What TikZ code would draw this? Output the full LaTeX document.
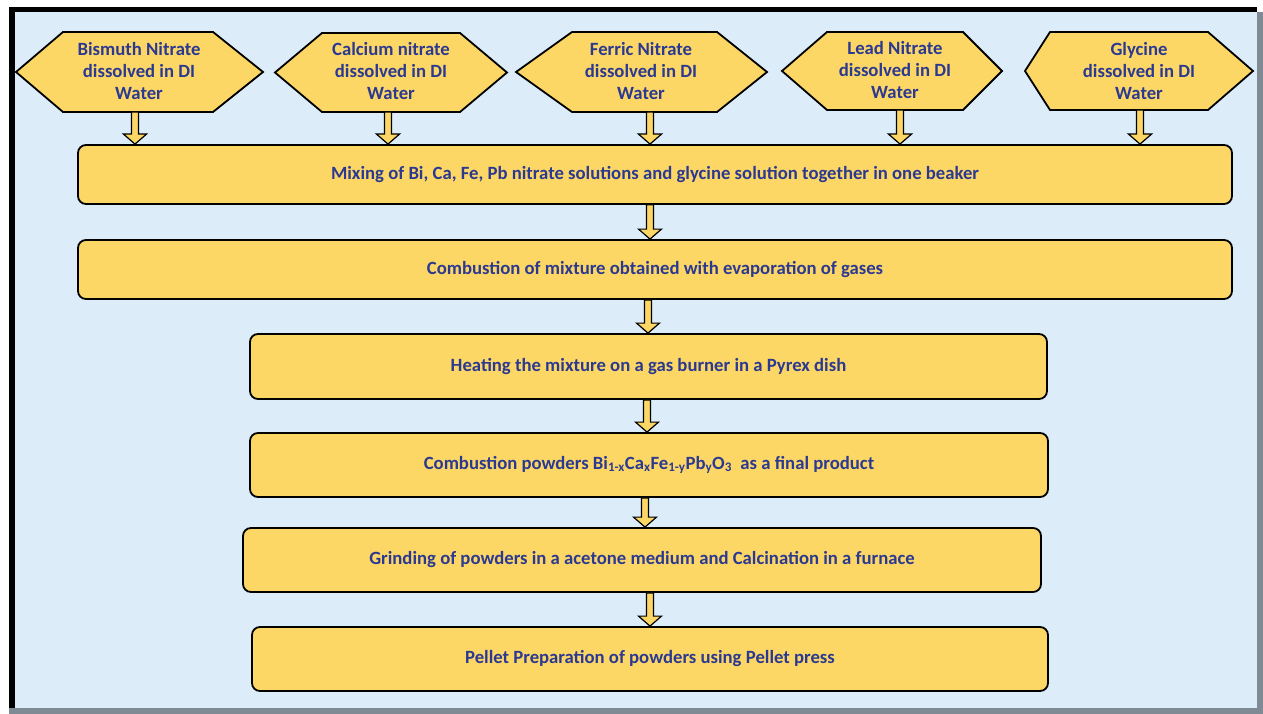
\documentclass[tikz,border=0pt]{standalone}
\usepackage{fontspec}
\setmainfont{Carlito}
\usetikzlibrary{calc}
\definecolor{boxfill}{HTML}{FDD766}
\definecolor{txtblue}{HTML}{2B3990}
\definecolor{bgblue}{HTML}{DCECF8}
\definecolor{framegray}{HTML}{7F8A94}
\tikzset{
  hexbox/.style={draw=black, fill=boxfill, line width=1.8pt, line join=miter},
  hextext/.style={text=txtblue, font=\fontsize{18.7}{22}\selectfont\bfseries, align=center, inner sep=0pt},
  stepbox/.style={draw=black, fill=boxfill, line width=1.8pt, rounded corners=8pt, text=txtblue,
    font=\fontsize{18.7}{22}\selectfont\bfseries, align=center, inner sep=0pt},
  blockarrow/.style={draw=black, fill=boxfill, line width=1.2pt, line join=miter}
}
% block arrow: x taken from source, runs from source down to target
\newcommand\barrow[2]{%
  \path[blockarrow] let \p1=(#1), \p2=(#2) in
    (\x1-3.5pt,\y1) -- (\x1-3.5pt,\y2+10pt) -- (\x1-11.5pt,\y2+10pt) -- (\x1,\y2)
    -- (\x1+11.5pt,\y2+10pt) -- (\x1+3.5pt,\y2+10pt) -- (\x1+3.5pt,\y1) -- cycle;}
\begin{document}
\begin{tikzpicture}[x=1pt,y=-1pt]
\useasboundingbox (0,0) rectangle (1263,714);
% frame
\fill[white] (0,0) rectangle (1263,714);
\fill[bgblue] (15,12) rectangle (1257,708);
\fill[framegray] (1257,12) rectangle (1263,714);
\fill[framegray] (9,708) rectangle (1263,714);
\fill[black] (9,7) rectangle (1257,12);
\fill[black] (9,7) rectangle (15,708);

% hexagons
\draw[hexbox] (16,72) -- (63,32) -- (213,32) -- (263,72) -- (213,112) -- (63,112) -- cycle;
\draw[hexbox] (275,72.5) -- (322,33) -- (460,33) -- (507,72.5) -- (460,112) -- (322,112) -- cycle;
\draw[hexbox] (516,72) -- (572,32) -- (717,32) -- (767,72) -- (717,112) -- (572,112) -- cycle;
\draw[hexbox] (782,71) -- (827,32) -- (963,32) -- (1002,71) -- (963,110) -- (827,110) -- cycle;
\draw[hexbox] (1025,71) -- (1050,32) -- (1208,32) -- (1253,71) -- (1208,110) -- (1050,110) -- cycle;

\node[hextext] (h1) at (139,71) {Bismuth Nitrate\\dissolved in DI\\Water};
\node[hextext] (h2) at (391,71) {Calcium nitrate\\dissolved in DI\\Water};
\node[hextext] (h3) at (641,71) {Ferric Nitrate\\dissolved in DI\\Water};
\node[hextext] (h4) at (895,70) {Lead Nitrate\\dissolved in DI\\Water};
\node[hextext] (h5) at (1139,71) {Glycine\\dissolved in DI\\Water};

\coordinate (h1b) at (135,112);
\coordinate (h2b) at (388,112);
\coordinate (h3b) at (650,112);
\coordinate (h4b) at (900,110);
\coordinate (h5b) at (1140,110);

% process boxes
\node[stepbox, minimum width=1154pt, minimum height=59pt] (m1) at (655,174.5)
  {Mixing of Bi, Ca, Fe, Pb nitrate solutions and glycine solution together in one beaker};
\node[stepbox, minimum width=1154pt, minimum height=59pt] (m2) at (655,269.5)
  {Combustion of mixture obtained with evaporation of gases};
\node[stepbox, minimum width=797pt, minimum height=65pt] (m3) at (648.5,366.5)
  {Heating the mixture on a gas burner in a Pyrex dish};
\node[stepbox, minimum width=798pt, minimum height=64pt] (m4) at (649,465)
  {Combustion powders Bi\textsubscript{1-x}Ca\textsubscript{x}Fe\textsubscript{1-y}Pb\textsubscript{y}O\textsubscript{3}\ \ as a final product};
\node[stepbox, minimum width=798pt, minimum height=64pt] (m5) at (642,560)
  {Grinding of powders in a acetone medium and Calcination in a furnace};
\node[stepbox, minimum width=796pt, minimum height=64pt] (m6) at (650,659)
  {Pellet Preparation of powders using Pellet press};

% arrows
\barrow{h1b}{m1.north}
\barrow{h2b}{m1.north}
\barrow{h3b}{m1.north}
\barrow{h4b}{m1.north}
\barrow{h5b}{m1.north}
\barrow{[xshift=-5pt]m1.south}{m2.north}
\barrow{[xshift=-7pt]m2.south}{m3.north}
\barrow{[xshift=-1.5pt]m3.south}{m4.north}
\barrow{[xshift=-4pt]m4.south}{m5.north}
\barrow{[xshift=8pt]m5.south}{m6.north}
\end{tikzpicture}
\end{document}
